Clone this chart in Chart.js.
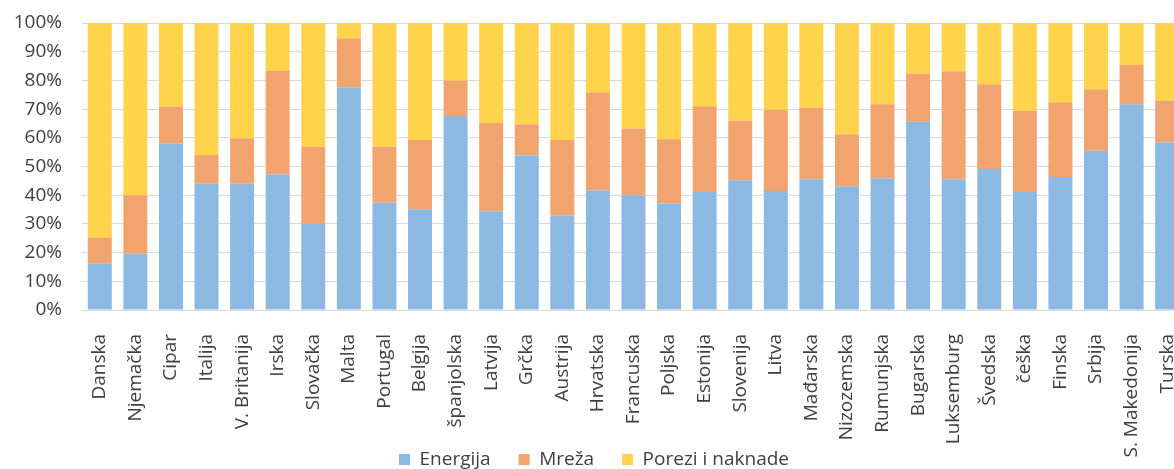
<!DOCTYPE html>
<html>
<head>
<meta charset="utf-8">
<script src="https://cdn.jsdelivr.net/npm/chart.js@4/dist/chart.umd.min.js"></script>
<style>
  html, body { margin: 0; padding: 0; background: #fff; overflow: hidden; }
  #wrap { width: 1190px; height: 469px; position: relative; }
</style>
</head>
<body>
<div id="wrap"><canvas id="shareChart"></canvas></div>
<script>
/* ============================================================
   DATA (share of the electricity price, %)
   ============================================================ */

const countries = [
  'Danska', 'Njemačka', 'Cipar', 'Italija', 'V. Britanija', 'Irska', 'Slovačka', 'Malta',
  'Portugal', 'Belgija', 'španjolska', 'Latvija', 'Grčka', 'Austrija', 'Hrvatska', 'Francuska',
  'Poljska', 'Estonija', 'Slovenija', 'Litva', 'Mađarska', 'Nizozemska', 'Rumunjska', 'Bugarska',
  'Luksemburg', 'Švedska', 'češka', 'Finska', 'Srbija', 'S. Makedonija', 'Turska',
];

const energija = [
  16.3, 19.6, 58.0, 44.0, 44.0, 47.3, 30.0, 77.5,
  37.4, 35.1, 67.6, 34.4, 53.8, 32.9, 41.7, 40.0,
  37.1, 41.1, 45.2, 41.5, 45.6, 43.1, 45.9, 65.6,
  45.6, 49.1, 41.1, 46.3, 55.5, 71.7, 58.4,
];

const mreza = [
  8.9, 20.4, 12.8, 10.0, 15.8, 36.0, 26.9, 17.2,
  19.5, 24.1, 12.3, 30.8, 10.9, 26.3, 34.2, 23.2,
  22.4, 29.9, 20.7, 28.3, 24.9, 18.1, 25.8, 16.7,
  37.6, 29.6, 28.3, 26.1, 21.4, 13.7, 14.5,
];

const porezi = [
  74.8, 60.0, 29.2, 46.0, 40.2, 16.7, 43.1, 5.3,
  43.1, 40.8, 20.1, 34.8, 35.3, 40.8, 24.1, 36.8,
  40.5, 29.0, 34.1, 30.2, 29.5, 38.8, 28.3, 17.7,
  16.8, 21.3, 30.6, 27.6, 23.1, 14.6, 27.1,
];

const yTicks = [0, 10, 20, 30, 40, 50, 60, 70, 80, 90, 100];

/* ============================================================
   CHART
   ============================================================ */

const FONT  = { family: "'Open Sans', sans-serif", size: 19 };
const TEXT  = '#404040';
const GRID  = '#d9d9d9';
const CLEAR = 'rgba(0,0,0,0)';

function barSet(label, data, color) {
  return { label, data, backgroundColor: color, borderWidth: 0, barPercentage: 0.674, categoryPercentage: 1 };
}

// long rotated country names run into the legend band; don't clip them at the axis box
const unclipLabels = {
  id: 'unclipLabels',
  afterLayout: c => { c.scales.x.bottom = c.height; },
};

new Chart(document.getElementById('shareChart'), {
  type: 'bar',
  plugins: [unclipLabels],
  data: {
    labels: countries,
    datasets: [
      barSet('Energija', energija, '#8cb9e2'),
      barSet('Mreža', mreza, '#f2a46f'),
      barSet('Porezi i naknade', porezi, '#ffd34c'),
    ],
  },
  options: {
    responsive: true,
    maintainAspectRatio: false,
    animation: false,
    layout: { padding: { top: 23, right: 2, bottom: -10, left: 0 } },
    plugins: {
      tooltip: { enabled: false },
      legend: {
        position: 'bottom',
        labels: { font: FONT, color: TEXT, boxWidth: 11, boxHeight: 11, padding: 28 },
      },
    },
    scales: {
      x: {
        stacked: true,
        // invisible tick marks give the label gap without widening the auto padding
        grid: { color: CLEAR, drawOnChartArea: false, drawTicks: true, tickLength: 24, tickColor: CLEAR },
        border: { display: true, color: GRID },
        ticks: { font: FONT, color: TEXT, minRotation: 90, maxRotation: 90, autoSkip: false, padding: 0 },
        afterFit: s => { s.height = 112; },
      },
      y: {
        stacked: true,
        min: 0,
        max: 100,
        afterBuildTicks: s => { s.ticks = yTicks.map(v => ({ value: v })); },
        grid: { color: GRID, drawTicks: true, tickLength: 20, tickColor: CLEAR },
        border: { display: false },
        ticks: { font: FONT, color: TEXT, padding: 0, callback: v => v + '%' },
        afterFit: s => { s.width = 82; },
      },
    },
  },
});
</script>
</body>
</html>
